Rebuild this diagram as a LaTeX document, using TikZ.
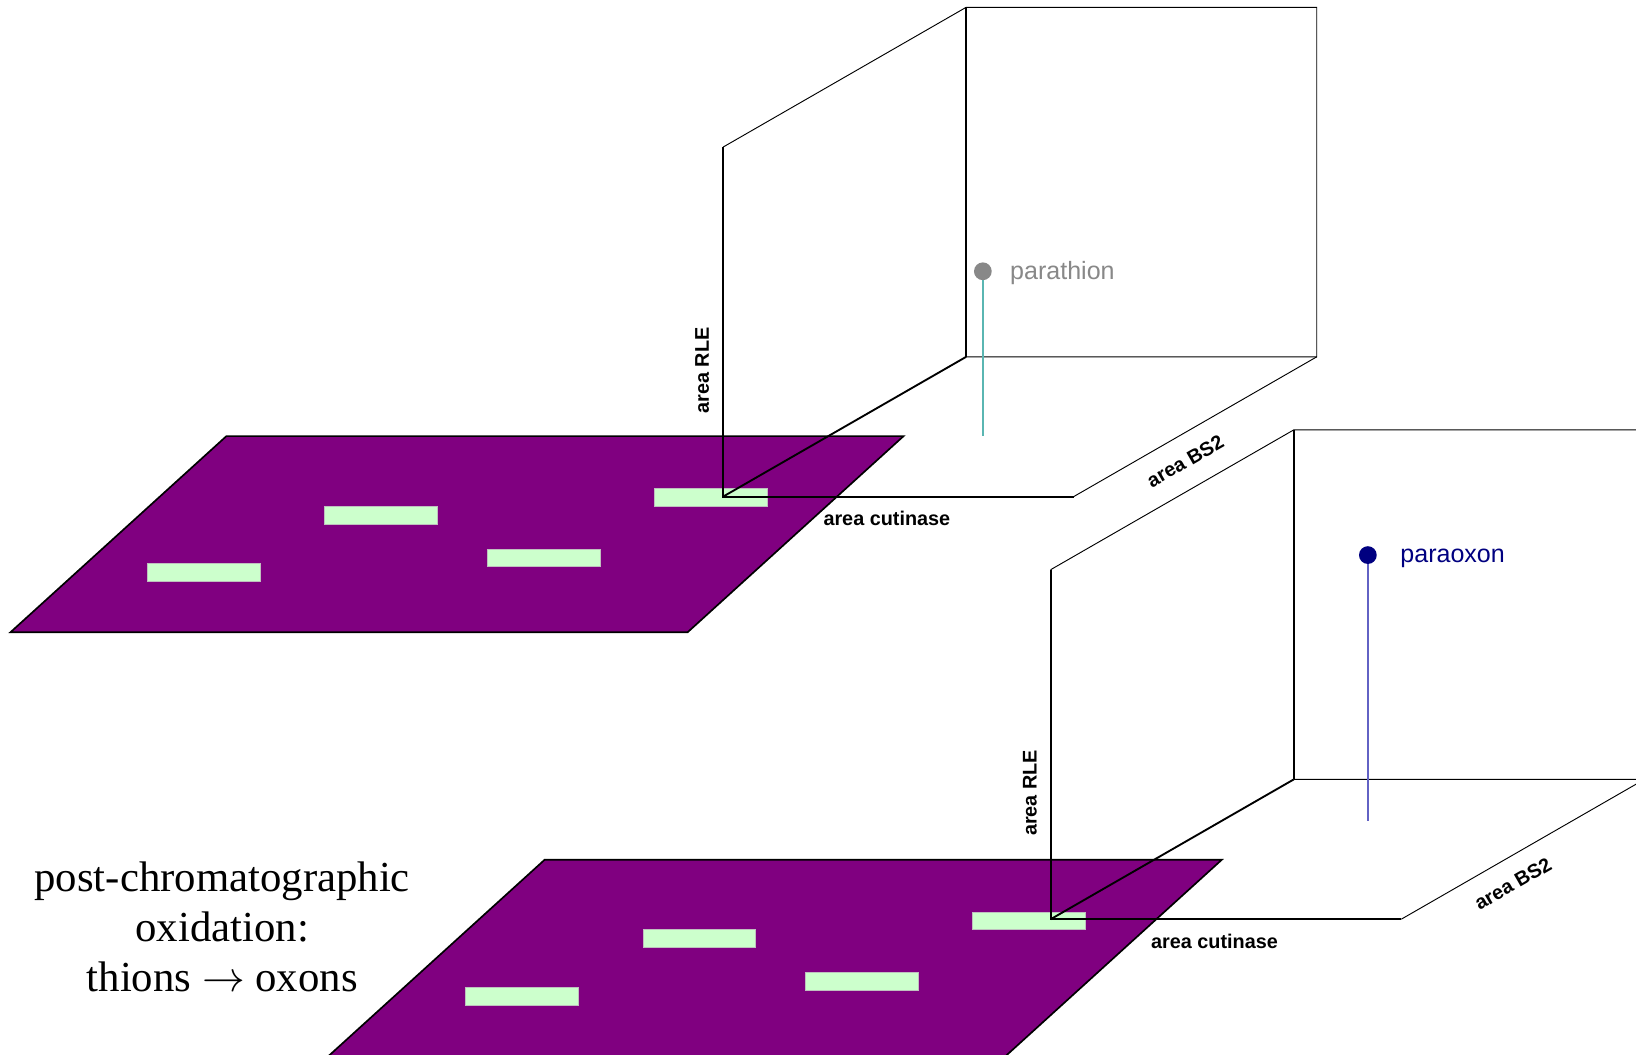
\RequirePackage{fix-cm}
\documentclass[tikz,border=0pt]{standalone}
\usepackage{fontspec}
\setmainfont{Liberation Serif}
\newfontfamily\labelfont{Liberation Sans}
\definecolor{plate}{HTML}{800080}
\definecolor{spot}{HTML}{CCFFCC}
\definecolor{thiongray}{HTML}{888888}
\definecolor{stemteal}{HTML}{5AB6B2}
\definecolor{oxonnavy}{HTML}{000080}
\definecolor{stemblue}{HTML}{6262C4}
\tikzset{
  thinedge/.style={draw=black, line width=0.9pt},
  boldedge/.style={draw=black, line width=1.8pt},
  axislabel/.style={font=\labelfont\bfseries\fontsize{19}{22}\selectfont, inner sep=0pt},
  compound/.style={font=\labelfont\fontsize{24}{27}\selectfont, inner sep=0pt, anchor=west},
  spotbox/.style={fill=spot, draw=gray!50, line width=0.4pt},
  % TLC plate with four spots, anchored at its back-left corner
  tlcplate/.pic={
    \coordinate (-a) at (0,0);
    \coordinate (-b) at (649,0);
    \coordinate (-c) at (442,188);
    \coordinate (-d) at (-207,188);
    \fill[plate] (-a) -- (-b) -- (-c) -- (-d) -- cycle;
    \draw[line width=1.6pt, line join=miter] (-a) -- (-b) -- (-c) -- (-d) -- cycle;
    \path[spotbox] (-76,122) rectangle (32,139);
    \path[spotbox] (94,67) rectangle (202,84);
    \path[spotbox] (250,108) rectangle (358,125);
    \path[spotbox] (410,50) rectangle (518,67);
  },
  % open box of three axes planes, anchored at its front-bottom-left corner
  axisbox/.pic={
    \coordinate (-o) at (0,0);
    \coordinate (-up) at (0,-335);
    \coordinate (-fr) at (336,0);
    \coordinate (-bbl) at (233,-134);
    \coordinate (-btl) at (233,-469);
    \coordinate (-btr) at (569,-469);
    \coordinate (-bbr) at (569,-134);
    \draw[thinedge] (-up) -- (-btl) -- (-btr) -- (-bbr) -- (-bbl);
    \draw[thinedge] (-fr) -- (-bbr);
    \draw[boldedge] (-btl) -- (-bbl);
    \draw[boldedge] (-up) -- (-o) -- (-fr);
    \draw[boldedge] (-o) -- (-bbl);
    \node[axislabel, rotate=90] (-rle) at (-20,-121) {area RLE};
    \node[axislabel] (-cut) at (157,21) {area cutinase};
    \node[axislabel, rotate=29.9] (-bs) at (443,-34) {area BS2};
  }
}
\begin{document}
\begin{tikzpicture}[x=1pt, y=-1pt]
  \useasboundingbox (0,0) rectangle (1568,1011);
  \clip (0,0) rectangle (1568,1011);
  \fill[white] (0,0) rectangle (1568,1011);

  % upper panel: before oxidation
  \pic (p1) at (217,418) {tlcplate};
  \pic (k1) at (693,476) {axisbox};
  \coordinate (s1) at (942,418);
  \node[circle, fill=thiongray, inner sep=0pt, minimum size=17pt] (d1) at (942,260) {};
  \draw[stemteal, line width=1.6pt] (d1.south) -- (s1);
  \node[compound, text=thiongray] (n1) at (968,262) {parathion};

  % lower panel: after oxidation
  \pic (p2) at (522,824) {tlcplate};
  \pic (k2) at (1007,881) {axisbox};
  \coordinate (s2) at (1311,787);
  \node[circle, fill=oxonnavy, inner sep=0pt, minimum size=17pt] (d2) at (1311,532) {};
  \draw[stemblue, line width=1.3pt] (d2.south) -- (s2);
  \node[compound, text=oxonnavy] (n2) at (1342,535) {paraoxon};

  % caption
  \node[align=center, font=\fontsize{41}{48}\selectfont, inner sep=0pt] (cap) at (213,888)
    {post-chromatographic\\oxidation:\\thions $\rightarrow$ oxons};
\end{tikzpicture}
\end{document}
